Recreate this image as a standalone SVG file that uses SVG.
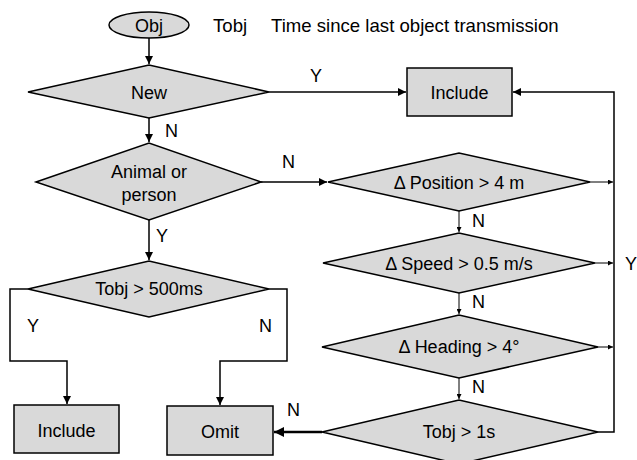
<svg xmlns="http://www.w3.org/2000/svg" width="637" height="460" viewBox="0 0 637 460">
<style>
.s{fill:#d9d9d9;stroke:#000;stroke-width:1.5}
.c{fill:none;stroke:#000;stroke-width:1.5}
.t{stroke-width:1}
.k{stroke-width:2.5}
text{font-family:"Liberation Sans",Arial,sans-serif;font-size:18px;fill:#000}
.m{text-anchor:middle}
.l{font-size:18.6px}
</style>
<defs>
<marker id="a" viewBox="0 0 10 10" refX="10" refY="5" markerWidth="9" markerHeight="8" markerUnits="userSpaceOnUse" orient="auto"><path d="M0,0L10,5L0,10z"/></marker>
<marker id="b" viewBox="0 0 10 10" refX="10" refY="5" markerWidth="6" markerHeight="5" markerUnits="userSpaceOnUse" orient="auto"><path d="M0,0L10,5L0,10z"/></marker>
<marker id="d" viewBox="0 0 10 10" refX="10" refY="5" markerWidth="11" markerHeight="10" markerUnits="userSpaceOnUse" orient="auto"><path d="M0,0L10,5L0,10z"/></marker>
</defs>
<g id="connectors">
<path class="c" d="M149,38V64" marker-end="url(#a)"/>
<path class="c" d="M269,92H406" marker-end="url(#a)"/>
<path class="c" d="M149,118V142" marker-end="url(#a)"/>
<path class="c" d="M261,182H327" marker-end="url(#a)"/>
<path class="c" d="M149,220V260" marker-end="url(#a)"/>
<path class="c" d="M28,289H10V361H67V404" marker-end="url(#a)"/>
<path class="c" d="M269,289H287V361H220V405" marker-end="url(#a)"/>
<path class="c t" d="M590,182H613" marker-end="url(#b)"/>
<path class="c t" d="M595,263H613" marker-end="url(#b)"/>
<path class="c t" d="M598,347H613" marker-end="url(#b)"/>
<path class="c" d="M598,432H614V92H513" marker-end="url(#a)"/>
<path class="c t" d="M459,211V232" marker-end="url(#b)"/>
<path class="c t" d="M459,293V314" marker-end="url(#b)"/>
<path class="c t" d="M459,378V399" marker-end="url(#b)"/>
<path class="c k" d="M322,432H274" marker-end="url(#d)"/>
</g>
<g id="obj"><ellipse class="s" cx="149" cy="25" rx="40" ry="13"/><text class="m" x="149" y="32">Obj</text></g>
<g id="legend"><text class="l" x="213" y="32">Tobj</text><text class="l" x="271" y="32">Time since last object transmission</text></g>
<g id="new"><polygon class="s" points="28,92 149,65 269,92 149,118"/><text class="m" x="149" y="99">New</text></g>
<g id="include-top"><rect class="s" x="407" y="68" width="105" height="48"/><text class="m" x="459.5" y="99">Include</text></g>
<g id="animal"><polygon class="s" points="36,182 149,143 261,182 149,220"/><text class="m" x="149" y="178">Animal or</text><text class="m" x="149" y="201">person</text></g>
<g id="tobj500"><polygon class="s" points="28,289 149,261 269,289 149,317"/><text class="m" x="149" y="295">Tobj &gt; 500ms</text></g>
<g id="include-bottom"><rect class="s" x="14" y="405" width="105" height="48"/><text class="m" x="66.5" y="437">Include</text></g>
<g id="omit"><rect class="s" x="167" y="406" width="106" height="49"/><text class="m" x="220" y="438">Omit</text></g>
<g id="position"><polygon class="s" points="328,182 459,153 590,182 459,211"/><text class="m" x="459" y="189">Δ Position &gt; 4 m</text></g>
<g id="speed"><polygon class="s" points="323,263 459,233 595,263 459,293"/><text class="m" x="459" y="270">Δ Speed &gt; 0.5 m/s</text></g>
<g id="heading"><polygon class="s" points="322,347 459,315 598,347 459,378"/><text class="m" x="459" y="353">Δ Heading &gt; 4°</text></g>
<g id="tobj1s"><polygon class="s" points="322,432 459,400 598,432 459,464"/><text class="m" x="459" y="438">Tobj &gt; 1s</text></g>
<g id="labels">
<text x="310" y="82">Y</text>
<text x="165" y="137">N</text>
<text x="282" y="168">N</text>
<text x="156" y="242">Y</text>
<text x="27" y="332">Y</text>
<text x="259" y="332">N</text>
<text x="287" y="416">N</text>
<text x="472" y="227">N</text>
<text x="472" y="308">N</text>
<text x="472" y="393">N</text>
<text x="625" y="270">Y</text>
</g>
</svg>
